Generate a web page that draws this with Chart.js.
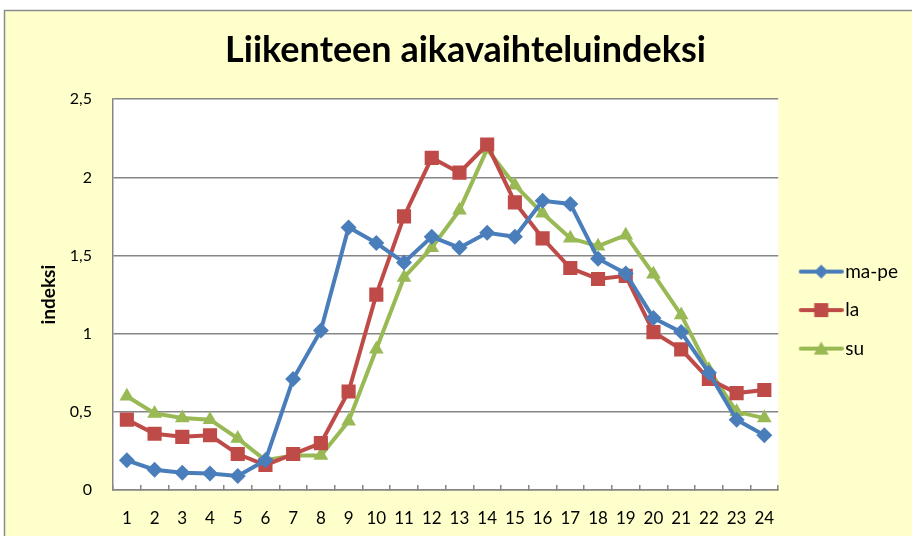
<!DOCTYPE html>
<html>
<head>
<meta charset="utf-8">
<script src="https://cdn.jsdelivr.net/npm/chart.js@4"></script>
<style>
  body { margin: 0; background: #fff; }
  canvas { display: block; }
</style>
</head>
<body>
<canvas id="chart" width="912" height="536"></canvas>
<script>
const tunnit = ['1','2','3','4','5','6','7','8','9','10','11','12','13','14','15','16','17','18','19','20','21','22','23','24'];
const maPe = [0.19,0.13,0.11,0.105,0.09,0.19,0.71,1.02,1.68,1.58,1.455,1.62,1.55,1.645,1.62,1.85,1.83,1.48,1.385,1.10,1.01,0.75,0.45,0.35];
const la = [0.45,0.36,0.34,0.35,0.23,0.16,0.23,0.30,0.63,1.25,1.75,2.125,2.03,2.21,1.84,1.61,1.42,1.35,1.37,1.01,0.90,0.71,0.62,0.64];
const su = [0.60,0.49,0.46,0.45,0.33,0.19,0.22,0.22,0.44,0.90,1.36,1.55,1.79,2.18,1.95,1.77,1.61,1.56,1.63,1.38,1.12,0.77,0.50,0.46];
const yTicks = [0, 0.5, 1, 1.5, 2, 2.5];

const sininen = '#4A7EBB';
const punainen = '#BE4B48';
const vihrea = '#98B954';

// pieni kuva legendaan: viiva + merkki
function legendKuva(vari, tyyli) {
  const c = document.createElement('canvas');
  c.width = 54; c.height = 20;
  const g = c.getContext('2d');
  g.strokeStyle = vari;
  g.lineWidth = 4;
  g.lineCap = 'round';
  g.beginPath(); g.moveTo(11, 10); g.lineTo(52, 10); g.stroke();
  g.fillStyle = vari;
  g.beginPath();
  const m = 31.5;
  if (tyyli === 'rectRot') {
    g.moveTo(m, 3); g.lineTo(m + 7, 10); g.lineTo(m, 17); g.lineTo(m - 7, 10);
  } else if (tyyli === 'rect') {
    g.rect(m - 7, 3, 14, 14);
  } else {
    g.moveTo(m, 3); g.lineTo(m + 7.5, 16); g.lineTo(m - 7.5, 16);
  }
  g.closePath(); g.fill();
  return c;
}

const tausta = {
  id: 'tausta',
  beforeDraw(chart) {
    const ctx = chart.ctx;
    const a = chart.chartArea;
    ctx.save();
    ctx.fillStyle = '#ffffff';
    ctx.fillRect(0, 0, chart.width, chart.height);
    ctx.fillStyle = '#FFFFCC';
    ctx.fillRect(4, 10, chart.width - 4, chart.height - 10);
    ctx.strokeStyle = '#8c8c8c';
    ctx.lineWidth = 1.5;
    ctx.strokeRect(4.5, 10.5, chart.width + 10, chart.height + 10);
    ctx.fillStyle = '#ffffff';
    ctx.fillRect(a.left, a.top, a.right - a.left, a.bottom - a.top);
    ctx.restore();
  }
};

const ctx = document.getElementById('chart').getContext('2d');
const kuvat = [legendKuva(sininen, 'rectRot'), legendKuva(punainen, 'rect'), legendKuva(vihrea, 'triangle')];

new Chart(ctx, {
  type: 'line',
  data: {
    labels: tunnit,
    datasets: [
      { label: 'ma-pe', data: maPe, borderColor: sininen, backgroundColor: sininen, pointStyle: 'rectRot', pointRadius: 8 },
      { label: 'la', data: la, borderColor: punainen, backgroundColor: punainen, pointStyle: 'rect', pointRadius: 10 },
      { label: 'su', data: su, borderColor: vihrea, backgroundColor: vihrea, pointStyle: 'triangle', pointRadius: 8.5 }
    ]
  },
  options: {
    responsive: false,
    animation: false,
    devicePixelRatio: 1,
    layout: { padding: { left: 23, right: 4, top: 22, bottom: 7 } },
    elements: {
      line: { borderWidth: 4, tension: 0 },
      point: { borderWidth: 0, hoverRadius: 8 }
    },
    plugins: {
      title: {
        display: true,
        text: 'Liikenteen aikavaihteluindeksi',
        color: '#000',
        font: { family: 'Lato', size: 36, weight: 'bold' },
        padding: { top: 7, bottom: 27 }
      },
      legend: {
        position: 'right',
        title: { display: true, text: ' ', font: { size: 1 }, padding: { top: 68, bottom: 0 } },
        labels: {
          usePointStyle: true,
          pointStyleWidth: 38,
          color: '#000',
          font: { family: 'Lato', size: 19 },
          padding: 19.5,
          generateLabels(chart) {
            return chart.data.datasets.map((ds, i) => ({
              text: ds.label,
              fillStyle: ds.backgroundColor,
              strokeStyle: ds.borderColor,
              lineWidth: 0,
              pointStyle: kuvat[i],
              datasetIndex: i,
              fontColor: '#000'
            }));
          }
        }
      },
      tooltip: { enabled: false }
    },
    scales: {
      x: {
        offset: true,
        grid: { display: true, drawOnChartArea: false, offset: true, drawTicks: true, tickLength: -5, color: '#868686', lineWidth: 1.5 },
        border: { color: '#868686', width: 1.5 },
        ticks: { color: '#000', font: { family: 'Lato', size: 17 }, padding: 23.5, maxRotation: 0, autoSkip: false },
        afterFit(scale) { scale.height = 39; }
      },
      y: {
        min: 0,
        max: 2.5,
        afterBuildTicks(axis) { axis.ticks = yTicks.map(v => ({ value: v })); },
        grid: { color: '#868686', lineWidth: 1.5, drawTicks: false },
        border: { color: '#868686', width: 1.5 },
        ticks: {
          color: '#000',
          font: { family: 'Lato', size: 16 },
          padding: 21,
          callback: v => String(v).replace('.', ',')
        },
        title: {
          display: true,
          text: 'indeksi',
          color: '#000',
          font: { family: 'Lato', size: 19, weight: 'bold' },
          padding: { top: 14, bottom: 0 }
        },
        afterFit(scale) { scale.width = 90; }
      }
    }
  },
  plugins: [tausta]
});
</script>
</body>
</html>
